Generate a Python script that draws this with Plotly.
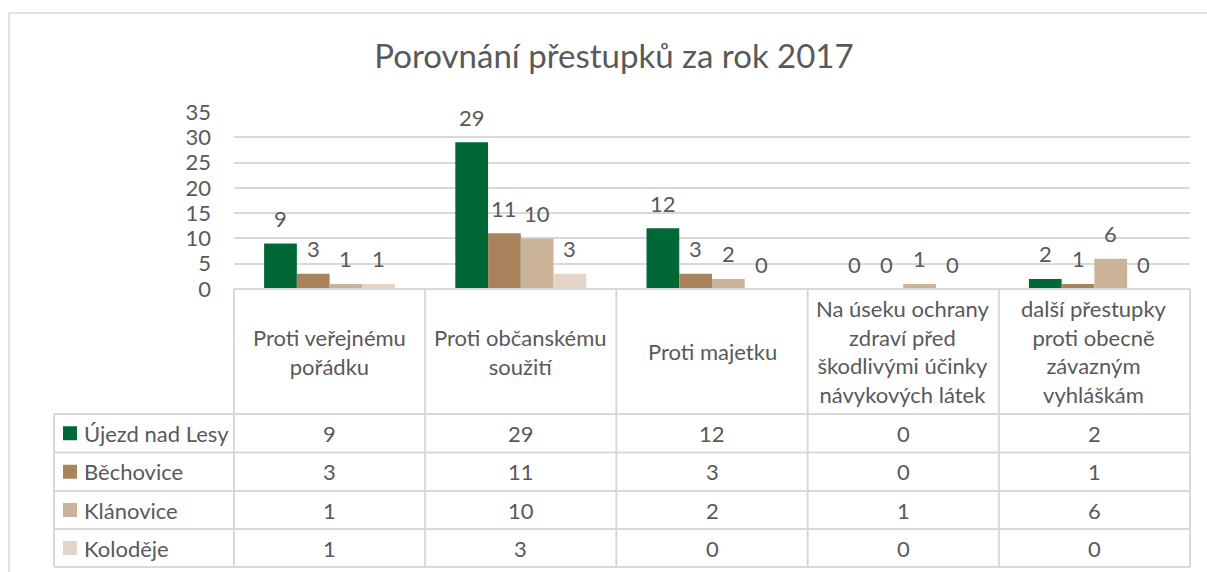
import plotly.graph_objects as go

# ---- data ----
categories = [
    "Proti veřejnému pořádku",
    "Proti občanskému soužití",
    "Proti majetku",
    "Na úseku ochrany zdraví před škodlivými účinky návykových látek",
    "další přestupky proti obecně závazným vyhláškám",
]
category_labels = [
    "Proti veřejnému<br>pořádku",
    "Proti občanskému<br>soužití",
    "Proti majetku",
    "Na úseku ochrany<br>zdraví před<br>škodlivými účinky<br>návykových látek",
    "další přestupky<br>proti obecně<br>závazným<br>vyhláškám",
]
series_names = ["Újezd nad Lesy", "Běchovice", "Klánovice", "Koloděje"]
ujezd = [9, 29, 12, 0, 2]
bechovice = [3, 11, 3, 0, 1]
klanovice = [1, 10, 2, 1, 6]
kolodeje = [1, 3, 0, 0, 0]
series_values = [ujezd, bechovice, klanovice, kolodeje]
y_ticks = [0, 5, 10, 15, 20, 25, 30, 35]
title_text = "Porovnání přestupků za rok 2017"

# ---- style ----
colors = ["#006837", "#A8835C", "#CBB39A", "#E3D6C8"]
text_color = "#595959"
line_color = "#D9D9D9"
font_family = "Lato, 'Noto Sans', sans-serif"
fs = 22

W, H = 1207, 572
L, R, T, B = 234, 1190, 112, 289  # plot area in pixels
bargap = 0.315

def px2x(px):
    return (px - L) / (R - L)

def py2y(py):
    return (B - py) / (B - T)

fig = go.Figure()
x_idx = list(range(len(categories)))
for name, vals, c in zip(series_names, series_values, colors):
    fig.add_trace(go.Bar(x=x_idx, y=vals, name=name, marker=dict(color=c, line=dict(width=0)),
                         showlegend=False, hoverinfo="y+name"))

annotations = []
shapes = []

# data labels above bars
n = len(series_names)
w = (1 - bargap) / n
for j, vals in enumerate(series_values):
    for i, v in enumerate(vals):
        annotations.append(dict(x=i + (j - (n - 1) / 2) * w, y=v, xref="x", yref="y",
                                text=str(v), showarrow=False, yanchor="middle", yshift=25,
                                font=dict(size=fs, color=text_color, family=font_family)))

# table geometry (pixels)
header_bottom = 414
row_lines = [414, 452.5, 491, 529, 567]
table_left = 54

# horizontal lines
shapes.append(dict(type="line", xref="paper", yref="paper", x0=0, x1=1, y0=0, y1=0,
                   line=dict(color=line_color, width=2)))
for ry in row_lines:
    shapes.append(dict(type="line", xref="paper", yref="paper", x0=px2x(table_left), x1=1,
                       y0=py2y(ry), y1=py2y(ry), line=dict(color=line_color, width=2)))
# vertical lines
ncat = len(categories)
for k in range(ncat + 1):
    xv = k / ncat
    shapes.append(dict(type="line", xref="paper", yref="paper", x0=xv, x1=xv,
                       y0=0, y1=py2y(row_lines[-1]), line=dict(color=line_color, width=2)))
shapes.append(dict(type="line", xref="paper", yref="paper", x0=px2x(table_left), x1=px2x(table_left),
                   y0=py2y(row_lines[0]), y1=py2y(row_lines[-1]), line=dict(color=line_color, width=2)))

# outer chart border (top and left edges visible)
shapes.append(dict(type="line", xref="paper", yref="paper", x0=px2x(9), x1=px2x(W),
                   y0=py2y(13), y1=py2y(13), line=dict(color=line_color, width=1.5), layer="below"))
shapes.append(dict(type="line", xref="paper", yref="paper", x0=px2x(9), x1=px2x(9),
                   y0=py2y(13), y1=py2y(H), line=dict(color=line_color, width=1.5), layer="below"))

# header labels
for i, lab in enumerate(category_labels):
    annotations.append(dict(x=i, y=py2y((B + header_bottom) / 2), xref="x", yref="paper",
                            text=lab, showarrow=False, align="center", yanchor="middle",
                            font=dict(size=fs, color=text_color, family=font_family)))

# rows: legend key + values
for j, (name, vals, c) in enumerate(zip(series_names, series_values, colors)):
    cy = (row_lines[j] + row_lines[j + 1]) / 2
    shapes.append(dict(type="rect", xref="paper", yref="paper", x0=px2x(63), x1=px2x(77),
                       y0=py2y(cy + 7), y1=py2y(cy - 7), fillcolor=c, line=dict(width=0)))
    annotations.append(dict(x=px2x(82), y=py2y(cy), xref="paper", yref="paper", text=name,
                            showarrow=False, xanchor="left", yanchor="middle",
                            font=dict(size=fs, color=text_color, family=font_family)))
    for i, v in enumerate(vals):
        annotations.append(dict(x=i, y=py2y(cy), xref="x", yref="paper", text=str(v),
                                showarrow=False, yanchor="middle",
                                font=dict(size=fs, color=text_color, family=font_family)))

fig.update_layout(
    width=W, height=H,
    margin=dict(l=L, r=W - R, t=T, b=H - B, pad=0),
    paper_bgcolor="white", plot_bgcolor="white",
    barmode="group", bargap=bargap, bargroupgap=0,
    title=dict(text=title_text, x=614 / W, xref="container", xanchor="center",
               y=1 - 56 / H, yref="container", yanchor="middle",
               font=dict(size=33, color=text_color, family=font_family)),
    xaxis=dict(type="linear", range=[-0.5, ncat - 0.5], showticklabels=False, showgrid=False,
               zeroline=False, showline=False, ticks=""),
    yaxis=dict(range=[0, 35], tickvals=y_ticks, showgrid=True, gridcolor=line_color, gridwidth=1.5,
               zeroline=False, showline=False, ticks="", ticklabelstandoff=22,
               tickfont=dict(size=fs, color=text_color, family=font_family)),
    annotations=annotations, shapes=shapes,
    font=dict(family=font_family, color=text_color),
)

fig.write_html("out.html", config={"displayModeBar": False},
               post_script="document.body.style.margin='0px';document.body.style.overflow='hidden';")
